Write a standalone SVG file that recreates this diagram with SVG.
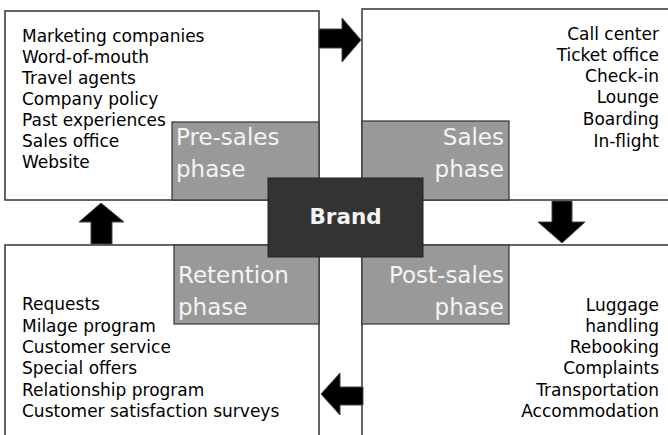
<svg xmlns="http://www.w3.org/2000/svg" width="668" height="435" viewBox="0 0 668 435">
<style>
.quad{fill:#fff;stroke:#333;stroke-width:1.5}
.phase{fill:#999;stroke:#333;stroke-width:1.2}
.list{font-family:"DejaVu Sans",sans-serif;font-size:17px;fill:#000}
.ph{font-family:"DejaVu Sans",sans-serif;font-size:23px;fill:#f4f4f4}
.r{text-anchor:end}
.arrow{fill:#000;stroke:#444;stroke-width:1}
</style>
<rect width="668" height="435" fill="#fff"/>
<g id="pre-sales">
<rect class="quad" x="5" y="11" width="314" height="189"/>
<rect class="phase" x="172" y="122" width="147" height="78"/>
<text class="list" x="22"><tspan x="22" y="42">Marketing companies</tspan><tspan x="22" y="63">Word-of-mouth</tspan><tspan x="22" y="84">Travel agents</tspan><tspan x="22" y="105">Company policy</tspan><tspan x="22" y="126">Past experiences</tspan><tspan x="22" y="147">Sales office</tspan><tspan x="22" y="168">Website</tspan></text>
<text class="ph"><tspan x="176" y="145">Pre-sales</tspan><tspan x="176" y="177">phase</tspan></text>
</g>
<g id="sales">
<rect class="quad" x="362" y="9" width="320" height="191"/>
<rect class="phase" x="362" y="121" width="147" height="79"/>
<text class="list r"><tspan x="659" y="40">Call center</tspan><tspan x="659" y="61">Ticket office</tspan><tspan x="659" y="82">Check-in</tspan><tspan x="659" y="103">Lounge</tspan><tspan x="659" y="125">Boarding</tspan><tspan x="659" y="147">In-flight</tspan></text>
<text class="ph r"><tspan x="504" y="145">Sales</tspan><tspan x="504" y="177">phase</tspan></text>
</g>
<g id="retention">
<rect class="quad" x="5" y="245" width="314" height="200"/>
<rect class="phase" x="174" y="245" width="145" height="79"/>
<text class="list"><tspan x="22" y="310">Requests</tspan><tspan x="22" y="332">Milage program</tspan><tspan x="22" y="353">Customer service</tspan><tspan x="22" y="374">Special offers</tspan><tspan x="22" y="396">Relationship program</tspan><tspan x="22" y="417">Customer satisfaction surveys</tspan></text>
<text class="ph"><tspan x="178" y="283">Retention</tspan><tspan x="178" y="315">phase</tspan></text>
</g>
<g id="post-sales">
<rect class="quad" x="362" y="245" width="320" height="200"/>
<rect class="phase" x="362" y="245" width="147" height="79"/>
<text class="list r"><tspan x="659" y="311">Luggage</tspan><tspan x="659" y="332">handling</tspan><tspan x="659" y="353">Rebooking</tspan><tspan x="659" y="374">Complaints</tspan><tspan x="659" y="396">Transportation</tspan><tspan x="659" y="417">Accommodation</tspan></text>
<text class="ph r"><tspan x="504" y="283">Post-sales</tspan><tspan x="504" y="315">phase</tspan></text>
</g>
<g id="brand">
<rect x="268" y="178" width="155" height="79" fill="#333" stroke="#222" stroke-width="1"/>
<text x="345.5" y="224" text-anchor="middle" font-family="'DejaVu Sans',sans-serif" font-size="21.5" font-weight="bold" fill="#f4f4f4">Brand</text>
</g>
<g id="connectors">
<polygon class="arrow" points="319,29 342,29 342,18 361,40 342,62 342,48 319,48"/>
<polygon class="arrow" points="552,201 572,201 572,222 585,222 562,243 538,222 552,222"/>
<polygon class="arrow" points="363,387 340,387 340,373 321,394 340,415 340,405 363,405"/>
<polygon class="arrow" points="91,244 112,244 112,222 124,222 101,203 79,222 91,222"/>
</g>
</svg>
